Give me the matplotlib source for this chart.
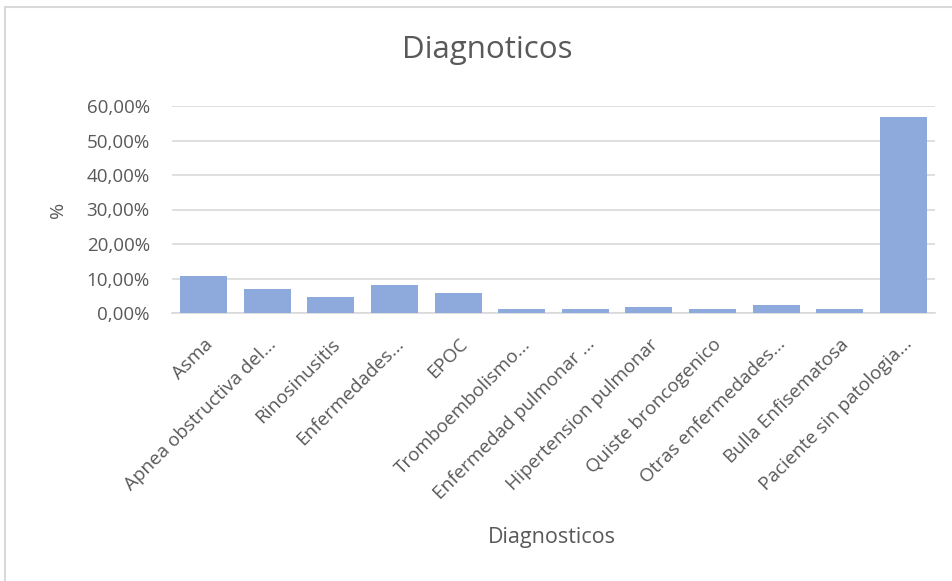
#!/usr/bin/env python3

import numpy as np
from matplotlib import pyplot as plt
from matplotlib.patches import Rectangle
from matplotlib.ticker import FuncFormatter

CATEGORIES = [
  'Asma',
  'Apnea obstructiva del...',
  'Rinosinusitis',
  'Enfermedades...',
  'EPOC',
  'Tromboembolismo...',
  'Enfermedad pulmonar ...',
  'Hipertension pulmonar',
  'Quiste broncogenico',
  'Otras enfermedades...',
  'Bulla Enfisematosa',
  'Paciente sin patologia...',
]
PERCENTS = [10.59, 7.06, 4.71, 8.24, 5.88, 1.18, 1.18, 1.76, 1.18, 2.35, 1.18, 56.7]
Y_TICKS = [0, 10, 20, 30, 40, 50, 60]

TEXT = '#595959'
GRID = '#d9d9d9'
BAR = '#8eaadc'

plt.rcParams['font.family'] = ['Open Sans', 'DejaVu Sans']

fig = plt.figure(figsize=(9.53, 5.81), dpi=100)
ax = fig.add_axes([172 / 953, 1 - 313 / 581, (935 - 172) / 953, (313 - 106) / 581])

x = np.arange(len(CATEGORIES))
ax.bar(x, PERCENTS, width=0.74, color=BAR, zorder=3)

ax.set_xlim(-0.5, len(CATEGORIES) - 0.5)
ax.set_ylim(0, 60)
ax.set_yticks(Y_TICKS)
ax.yaxis.set_major_formatter(FuncFormatter(lambda v, p: f'{v:.2f}%'.replace('.', ',')))
ax.grid(axis='y', color=GRID, linewidth=1.2, zorder=0)
ax.tick_params(axis='y', length=0, pad=16, labelsize=13.5, labelcolor=TEXT)
ax.tick_params(axis='x', length=0, pad=16, labelsize=13.6, labelcolor=TEXT)
ax.set_xticks(x)
ax.set_xticklabels(CATEGORIES, rotation=45, ha='right', rotation_mode='anchor')

for side in ['top', 'right', 'left']:
  ax.spines[side].set_visible(False)
ax.spines['bottom'].set_color(GRID)
ax.spines['bottom'].set_linewidth(1.2)

fig.text(58 / 953, 1 - 210 / 581, '%', rotation=90, ha='center', va='center', fontsize=14, color=TEXT)
fig.text(552 / 953, 1 - 537 / 581, 'Diagnosticos', ha='center', va='center', fontsize=15.5, color=TEXT)
fig.text(487 / 953, 1 - 50 / 581, 'Diagnoticos', ha='center', va='center', fontsize=22.5, color=TEXT)

# light frame around the chart
fig.patches.append(Rectangle((5 / 953, -0.05), 1.1, 1 - 7 / 581 + 0.05, transform=fig.transFigure,
                             fill=False, edgecolor='#d9d9d9', linewidth=1.5))

fig.savefig('out.png', dpi=100)
